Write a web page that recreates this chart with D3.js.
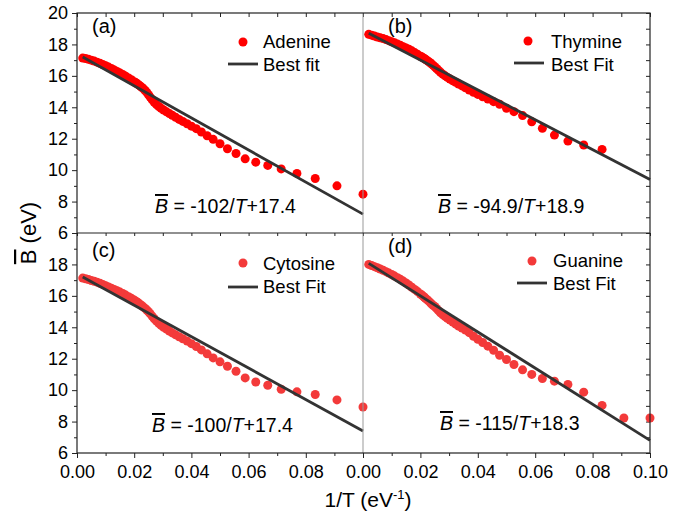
<!DOCTYPE html>
<html>
<head>
<meta charset="utf-8">
<script src="https://cdn.jsdelivr.net/npm/d3@7"></script>
<style>
  body { margin: 0; background: #fff; }
  svg text { font-family: "Liberation Sans", Arial, sans-serif; fill: #000; }
  .ax path { display: none; }
  .ax line { stroke: #222; }
</style>
</head>
<body>
<div id="chart"></div>
<script>
// 1/T values (eV^-1), shared by all four panels
const invT = [
  0.1, 0.0909, 0.0833, 0.0769, 0.0714, 0.0667, 0.0625, 0.0588, 0.0556, 0.0526,
  0.05, 0.0476, 0.0455, 0.0435, 0.0417, 0.04, 0.0385, 0.037, 0.0357, 0.0345,
  0.0333, 0.0323, 0.0313, 0.0303, 0.0294, 0.0286, 0.0278, 0.027, 0.0263, 0.0256,
  0.025, 0.0244, 0.0238, 0.0233, 0.0227, 0.0222, 0.0217, 0.0213, 0.0208, 0.0204,
  0.02, 0.019, 0.018, 0.017, 0.016, 0.015, 0.014, 0.013, 0.012, 0.011,
  0.01, 0.009, 0.008, 0.007, 0.006, 0.005, 0.004, 0.003, 0.002
];

const adenine = [
  8.47, 9.0, 9.47, 9.79, 10.08, 10.3, 10.51, 10.72, 11.06, 11.36,
  11.68, 11.96, 12.19, 12.43, 12.64, 12.8, 12.95, 13.1, 13.23, 13.36,
  13.49, 13.6, 13.71, 13.83, 13.94, 14.05, 14.17, 14.32, 14.48, 14.65,
  14.8, 14.95, 15.07, 15.17, 15.26, 15.34, 15.41, 15.47, 15.53, 15.58,
  15.63, 15.75, 15.87, 15.98, 16.09, 16.18, 16.28, 16.38, 16.47, 16.56,
  16.64, 16.72, 16.8, 16.87, 16.94, 17.0, 17.05, 17.1, 17.13
];

const thymine = [
  null, null, 11.32, 11.6, 11.85, 12.23, 12.66, 13.08, 13.47, 13.72,
  13.94, 14.19, 14.36, 14.52, 14.67, 14.82, 14.96, 15.1, 15.24, 15.36,
  15.48, 15.59, 15.69, 15.8, 15.9, 16.0, 16.11, 16.23, 16.35, 16.47,
  16.58, 16.68, 16.77, 16.85, 16.93, 17.0, 17.06, 17.11, 17.17, 17.21,
  17.25, 17.37, 17.48, 17.59, 17.69, 17.78, 17.86, 17.94, 18.02, 18.1,
  18.17, 18.24, 18.31, 18.37, 18.42, 18.47, 18.53, 18.59, 18.64
];

const cytosine = [
  8.93, 9.38, 9.72, 9.89, 10.06, 10.31, 10.52, 10.78, 11.2, 11.52,
  11.8, 12.05, 12.31, 12.56, 12.78, 12.96, 13.12, 13.27, 13.4, 13.52,
  13.64, 13.76, 13.88, 14.0, 14.12, 14.25, 14.39, 14.54, 14.7, 14.86,
  14.99, 15.1, 15.2, 15.28, 15.37, 15.44, 15.51, 15.57, 15.63, 15.68,
  15.73, 15.84, 15.95, 16.05, 16.15, 16.24, 16.33, 16.41, 16.49, 16.57,
  16.65, 16.73, 16.8, 16.87, 16.93, 16.98, 17.04, 17.09, 17.13
];

const guanine = [
  8.23, 8.23, 9.03, 9.87, 10.36, 10.57, 10.74, 11.0, 11.29, 11.63,
  11.95, 12.22, 12.54, 12.8, 13.03, 13.24, 13.43, 13.66, 13.82, 13.95,
  14.07, 14.2, 14.33, 14.46, 14.57, 14.68, 14.8, 14.92, 15.06, 15.2,
  15.32, 15.4, 15.5, 15.6, 15.7, 15.78, 15.86, 15.93, 16.0, 16.06,
  16.12, 16.27, 16.41, 16.55, 16.69, 16.82, 16.94, 17.05, 17.16, 17.26,
  17.36, 17.45, 17.54, 17.63, 17.71, 17.79, 17.86, 17.93, 18.0
];

// linear fits B = slope/T + intercept
const fitSlope = [-102, -94.9, -100, -115];
const fitIntercept = [17.4, 18.9, 17.4, 18.3];
const fitRange = [0.002, 0.1];

const names = ['Adenine', 'Thymine', 'Cytosine', 'Guanine'];
const fitNames = ['Best fit', 'Best Fit', 'Best Fit', 'Best Fit'];
const panelTags = ['(a)', '(b)', '(c)', '(d)'];
const yMajor = [6, 8, 10, 12, 14, 16, 18, 20];
const yMinor = [7, 9, 11, 13, 15, 17, 19];
const yAll = d3.range(6, 21);
const xMajor = [0, 0.02, 0.04, 0.06, 0.08, 0.1];
const xMinor = [0.01, 0.03, 0.05, 0.07, 0.09];
const xAll = d3.range(0, 11).map(i => i / 100);

const W = 695, H = 513;
const L = 77, M = 363, R = 650, TOP = 13, MID = 233, BOT = 453;

const svg = d3.select('#chart').append('svg')
  .attr('width', W).attr('height', H)
  .style('background', '#fff');

const xLeft = d3.scaleLinear().domain([0, 0.1]).range([L, M]);
const xRight = d3.scaleLinear().domain([0, 0.1]).range([M, R]);
const yTop = d3.scaleLinear().domain([6, 20]).range([MID, TOP]);
const yBot = d3.scaleLinear().domain([6, 20]).range([BOT, MID]);

// text positions for each panel (tag, legend, equation)
const layout = [
  { x: xLeft, y: yTop, color: '#ff0000', tag: [92, 33], dot: [243, 42], leg: [263, 48, 71], line: [228, 258, 64], eq: [155, 213] },
  { x: xRight, y: yTop, color: '#ff0000', tag: [388, 33], dot: [528, 41], leg: [551, 48, 71], line: [514, 544, 63], eq: [438, 213] },
  { x: xLeft, y: yBot, color: '#f33a3a', tag: [92, 257], dot: [243, 263], leg: [263, 270, 293], line: [228, 258, 287], eq: [152, 432] },
  { x: xRight, y: yBot, color: '#f33a3a', tag: [388, 253], dot: [532, 261], leg: [553, 267, 290], line: [517, 547, 283], eq: [440, 430] }
];
const series = [adenine, thymine, cytosine, guanine];

// axes: left (outward), bottom (outward)
function addAxis(axis, tx, ty) {
  return svg.append('g').attr('class', 'ax')
    .attr('transform', `translate(${tx},${ty})`)
    .call(axis)
    .call(g => g.selectAll('text').style('font-size', '18px').attr('fill', '#000'));
}

addAxis(d3.axisLeft(yTop).tickValues(yMajor).tickSize(5).tickPadding(4), L, 0);
addAxis(d3.axisLeft(yTop).tickValues(yMinor).tickSize(3).tickFormat(''), L, 0);
addAxis(d3.axisLeft(yBot).tickValues(yMajor).tickSize(5).tickPadding(4).tickFormat(d => d === 20 ? '' : d), L, 0);
addAxis(d3.axisLeft(yBot).tickValues(yMinor).tickSize(3).tickFormat(''), L, 0);

addAxis(d3.axisBottom(xLeft).tickValues(xMajor).tickSize(5).tickPadding(7).tickFormat(d => d === 0.1 ? '' : d3.format('.2f')(d)), 0, BOT);
addAxis(d3.axisBottom(xLeft).tickValues(xMinor).tickSize(3).tickFormat(''), 0, BOT);
addAxis(d3.axisBottom(xRight).tickValues(xMajor).tickSize(5).tickPadding(7).tickFormat(d3.format('.2f')), 0, BOT);
addAxis(d3.axisBottom(xRight).tickValues(xMinor).tickSize(3).tickFormat(''), 0, BOT);

// inward ticks on top border, middle divider and right border
[xLeft, xRight].forEach(sc => {
  addAxis(d3.axisBottom(sc).tickValues(xAll).tickSize(4).tickFormat(''), 0, TOP);
  addAxis(d3.axisBottom(sc).tickValues(xAll).tickSize(3).tickFormat(''), 0, MID);
});
[yTop, yBot].forEach(sc => {
  addAxis(d3.axisLeft(sc).tickValues(yAll).tickSize(4).tickFormat(''), R, 0);
});

// data
series.forEach((ys, i) => {
  const p = layout[i];
  const pts = invT.map((x, j) => ({ x, y: ys[j] })).filter(d => d.y != null);
  svg.append('g').selectAll('circle')
    .data(pts)
    .join('circle')
    .attr('cx', d => p.x(d.x))
    .attr('cy', d => p.y(d.y))
    .attr('r', 4.5)
    .attr('fill', p.color);

  const fit = fitRange.map(x => ({ x, y: fitSlope[i] * x + fitIntercept[i] }));
  svg.append('path')
    .datum(fit)
    .attr('d', d3.line().x(d => p.x(d.x)).y(d => p.y(d.y)))
    .attr('stroke', '#333')
    .attr('stroke-width', 2.8)
    .attr('fill', 'none');
});

// frame
svg.append('line').attr('x1', M).attr('x2', M).attr('y1', TOP).attr('y2', BOT)
  .attr('stroke', '#999').attr('stroke-width', 1);
svg.append('rect').attr('x', L).attr('y', TOP).attr('width', R - L).attr('height', BOT - TOP)
  .attr('fill', 'none').attr('stroke', '#222').attr('stroke-width', 1.2);
svg.append('line').attr('x1', L).attr('x2', R).attr('y1', MID).attr('y2', MID)
  .attr('stroke', '#222').attr('stroke-width', 1.2);

// panel texts
layout.forEach((p, i) => {
  svg.append('text').attr('x', p.tag[0]).attr('y', p.tag[1])
    .style('font-size', '20px').text(panelTags[i]);

  svg.append('circle').attr('cx', p.dot[0]).attr('cy', p.dot[1]).attr('r', 4.5).attr('fill', p.color);
  svg.append('text').attr('x', p.leg[0]).attr('y', p.leg[1]).style('font-size', '18.5px').text(names[i]);
  svg.append('line').attr('x1', p.line[0]).attr('x2', p.line[1]).attr('y1', p.line[2]).attr('y2', p.line[2])
    .attr('stroke', '#333').attr('stroke-width', 2.8);
  svg.append('text').attr('x', p.leg[0]).attr('y', p.leg[2]).style('font-size', '18.5px').text(fitNames[i]);

  const eq = svg.append('text').attr('x', p.eq[0]).attr('y', p.eq[1]).style('font-size', '19.5px');
  eq.append('tspan').style('font-style', 'italic').style('text-decoration', 'overline').text('B');
  eq.append('tspan').text(` = ${fitSlope[i]}/`);
  eq.append('tspan').style('font-style', 'italic').text('T');
  eq.append('tspan').text(`+${fitIntercept[i]}`);
});

// axis titles
const yt = svg.append('text')
  .attr('transform', 'translate(36,233) rotate(-90)')
  .attr('text-anchor', 'middle')
  .style('font-size', '22px');
yt.append('tspan').style('text-decoration', 'overline').text('B');
yt.append('tspan').text(' (eV)');

const xt = svg.append('text')
  .attr('x', 368).attr('y', 507)
  .attr('text-anchor', 'middle')
  .style('font-size', '21px');
xt.append('tspan').text('1/T (eV');
xt.append('tspan').attr('dy', -8).style('font-size', '13px').text('-1');
xt.append('tspan').attr('dy', 8).text(')');
</script>
</body>
</html>
